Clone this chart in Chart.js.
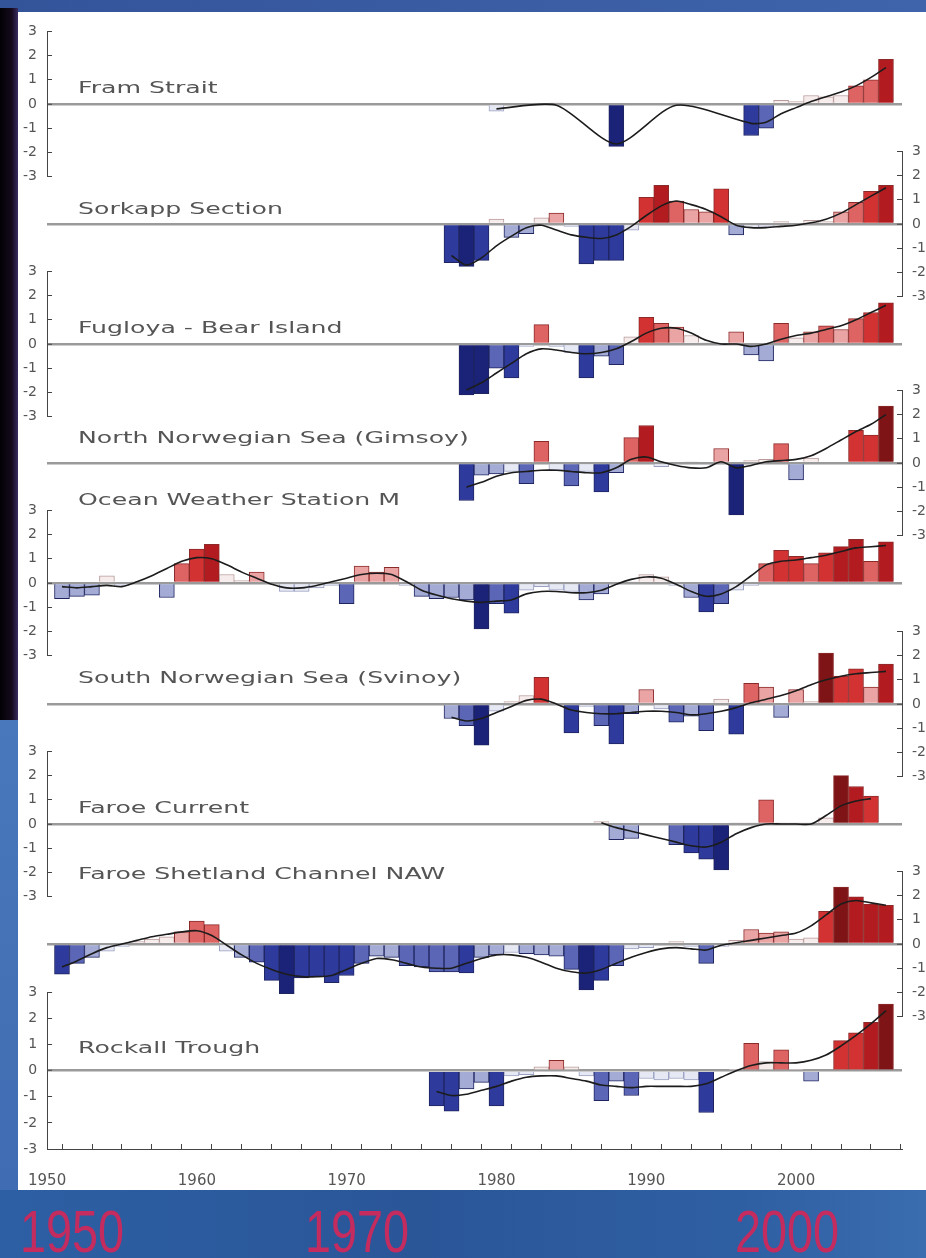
<!DOCTYPE html>
<html><head><meta charset="utf-8">
<script src="https://cdn.jsdelivr.net/npm/chart.js@4.4.1/dist/chart.umd.min.js"></script>
<style>
html,body{margin:0;padding:0;}
body{width:926px;height:1258px;position:relative;overflow:hidden;background:#3a63a8;font-family:"DejaVu Sans",sans-serif;}
#topbar{position:absolute;left:0;top:0;width:926px;height:12px;background:linear-gradient(90deg,#34549a,#3f64ab);}
#leftdark{position:absolute;left:0;top:8px;width:18px;height:712px;background:linear-gradient(90deg,#020104 0%,#140a1c 65%,#3b2c62 100%);}
#leftblue{position:absolute;left:0;top:720px;width:18px;height:470px;background:linear-gradient(180deg,#4a78bc,#3f6cb2);}
#paper{position:absolute;left:18px;top:12px;width:908px;height:1178px;background:#fff;}
#bottom{position:absolute;left:0;top:1190px;width:926px;height:68px;background:linear-gradient(90deg,#2d5fa4,#2a5698 45%,#2f5fa3 80%,#3a6cb0);}
.cv{position:absolute;left:0;}
.lbl{position:absolute;left:78px;font-size:15px;line-height:18px;color:#555;white-space:nowrap;transform:scaleX(1.68);transform-origin:0 50%;}
.big{position:absolute;top:1204px;font-family:"Liberation Sans",sans-serif;font-size:60px;line-height:56px;color:#c42b5e;transform:scaleX(0.78);transform-origin:0 0;white-space:nowrap;}
</style></head>
<body>
<div id="topbar"></div><div id="leftdark"></div><div id="leftblue"></div><div id="paper"></div><div id="bottom"></div>
<div id="charts"></div>
<div id="labels"></div>
<script>
// ---------- axis / tick data ----------
const XMIN = 1950, XMAX = 2007.07;
const xTickYears = [1950,1952,1954,1956,1958,1960,1962,1964,1966,1968,1970,1972,1974,1976,1978,1980,1982,1984,1986,1988,1990,1992,1994,1996,1998,2000,2002,2004,2006];
const xDecadeLabels = ['1950','1960','1970','1980','1990','2000'];
const yTicks = [-3,-2,-1,0,1,2,3];
const bigYearLabels = ['1950','1970','2000'];

const panelNames = ['Fram Strait','Sorkapp Section','Fugloya - Bear Island','North Norwegian Sea (Gimsoy)','Ocean Weather Station M','South Norwegian Sea (Svinoy)','Faroe Current','Faroe Shetland Channel NAW','Rockall Trough'];

// ---------- series (anomalies, one value per year from start year) ----------
const framStart = 1980;
const framBars = [-0.3,null,null,null,0.05,null,null,null,-1.75,null,null,null,0.05,null,null,null,null,-1.3,-1.0,0.15,0.1,0.35,0.3,0.35,0.75,1.0,1.85];
const framLine = [-0.2,null,null,null,-0.05,null,null,null,-1.65,null,null,null,-0.05,null,null,null,null,-0.8,-0.75,-0.4,-0.15,0.1,0.3,0.5,0.75,1.1,1.5];

const sorkappStart = 1977;
const sorkappBars = [-1.6,-1.75,-1.5,0.2,-0.55,-0.4,0.25,0.45,-0.1,-1.65,-1.5,-1.5,-0.25,1.1,1.6,0.95,0.6,0.5,1.45,-0.45,-0.15,-0.1,0.1,-0.05,0.15,0.1,0.5,0.9,1.35,1.6];
const sorkappLine = [-1.3,-1.7,-1.4,-0.9,-0.5,-0.15,-0.05,-0.25,-0.45,-0.55,-0.6,-0.45,-0.1,0.35,0.75,0.95,0.8,0.6,0.3,-0.05,-0.15,-0.15,-0.1,-0.05,0.05,0.2,0.45,0.8,1.15,1.5];

const fugloyaStart = 1978;
const fugloyaBars = [-2.1,-2.05,-1.0,-1.4,-0.1,0.8,-0.1,-0.35,-1.4,-0.5,-0.85,0.3,1.1,0.85,0.7,0.35,0.05,-0.05,0.5,-0.45,-0.7,0.85,0.25,0.5,0.75,0.6,1.05,1.3,1.7];
const fugloyaLine = [-1.9,-1.6,-1.2,-0.8,-0.4,-0.2,-0.25,-0.35,-0.4,-0.35,-0.2,0.1,0.45,0.65,0.65,0.45,0.15,0.0,0.0,-0.1,0.0,0.2,0.35,0.45,0.6,0.75,1.0,1.3,1.6];

const gimsoyStart = 1978;
const gimsoyBars = [-1.55,-0.5,-0.45,-0.35,-0.85,0.9,-0.3,-0.95,-0.35,-1.2,-0.4,1.05,1.55,-0.15,-0.05,0.05,-0.05,0.6,-2.15,0.1,0.15,0.8,-0.7,0.2,null,null,1.35,1.15,2.35];
const gimsoyLine = [-1.0,-0.8,-0.55,-0.4,-0.35,-0.3,-0.3,-0.35,-0.4,-0.4,-0.2,0.15,0.25,0.05,-0.1,-0.2,-0.2,0.05,-0.2,-0.1,0.05,0.1,0.15,0.3,0.6,0.95,1.3,1.6,2.0];

const owsStart = 1951;
const owsBars = [-0.65,-0.55,-0.5,0.3,-0.1,0.05,-0.05,-0.6,0.8,1.4,
  1.6,0.35,0.1,0.45,0.0,-0.35,-0.35,-0.2,-0.1,-0.85,
  0.7,0.45,0.65,-0.1,-0.55,-0.65,-0.6,-0.7,-1.9,-0.85,
  -1.25,-0.3,-0.15,-0.3,-0.35,-0.7,-0.45,-0.05,0.05,0.35,
  0.25,-0.1,-0.6,-1.2,-0.85,-0.3,-0.1,0.8,1.35,1.1,
  0.8,1.25,1.5,1.8,0.9,1.7];
const owsLine = [-0.15,-0.2,-0.15,-0.1,-0.15,0.05,0.3,0.6,0.9,1.05,
  1.0,0.75,0.45,0.2,-0.05,-0.2,-0.2,-0.1,0.05,0.2,
  0.35,0.4,0.35,0.05,-0.3,-0.5,-0.65,-0.75,-0.8,-0.75,
  -0.7,-0.45,-0.35,-0.35,-0.4,-0.4,-0.3,-0.05,0.15,0.25,
  0.2,-0.05,-0.35,-0.55,-0.45,-0.15,0.3,0.75,0.9,0.95,
  1.05,1.15,1.3,1.45,1.5,1.55];

const svinoyStart = 1977;
const svinoyBars = [-0.6,-0.9,-1.7,-0.3,0.1,0.35,1.1,-0.05,-1.2,-0.1,-0.9,-1.65,-0.4,0.6,-0.2,-0.75,-0.5,-1.1,0.2,-1.25,0.85,0.7,-0.55,0.6,0.1,2.1,1.15,1.45,0.7,1.65];
const svinoyLine = [-0.55,-0.7,-0.6,-0.35,-0.1,0.15,0.2,0.0,-0.25,-0.35,-0.4,-0.4,-0.35,-0.3,-0.3,-0.35,-0.45,-0.4,-0.3,-0.15,0.05,0.2,0.35,0.55,0.8,1.0,1.15,1.25,1.3,1.35];

const faroeStart = 1987;
const faroeBars = [0.1,-0.65,-0.6,null,null,-0.85,-1.2,-1.45,-1.9,0.05,0.05,1.0,0.05,0.05,0.05,0.25,2.0,1.55,1.15];
const faroeLine = [0.05,-0.15,-0.3,-0.45,-0.6,-0.75,-0.9,-0.95,-0.75,-0.4,-0.15,0.0,0.0,0.0,0.0,0.35,0.75,0.95,1.05];

const fscStart = 1951;
const fscBars = [-1.25,-0.8,-0.55,-0.3,-0.1,0.1,0.2,0.3,0.5,0.95,
  0.8,-0.3,-0.55,-0.75,-1.5,-2.05,-1.4,-1.35,-1.6,-1.3,
  -0.8,-0.5,-0.55,-0.9,-0.95,-1.15,-1.15,-1.2,-0.55,-0.45,
  -0.35,-0.4,-0.45,-0.5,-1.05,-1.9,-1.5,-0.9,-0.2,-0.15,
  -0.05,0.1,-0.1,-0.8,-0.1,0.15,0.6,0.45,0.5,0.2,
  0.25,1.35,2.35,1.95,1.65,1.6];
const fscLine = [-0.95,-0.7,-0.4,-0.15,0.0,0.15,0.3,0.4,0.5,0.55,
  0.35,-0.05,-0.45,-0.8,-1.05,-1.25,-1.35,-1.35,-1.3,-1.05,
  -0.8,-0.6,-0.65,-0.8,-0.95,-1.0,-1.0,-0.8,-0.6,-0.45,
  -0.45,-0.55,-0.75,-1.0,-1.15,-1.2,-1.05,-0.8,-0.55,-0.35,
  -0.2,-0.15,-0.2,-0.25,-0.05,0.05,0.15,0.25,0.35,0.45,
  0.75,1.2,1.65,1.8,1.7,1.6];

const rockallStart = 1976;
const rockallBars = [-1.35,-1.55,-0.7,-0.45,-1.35,-0.2,-0.15,0.15,0.4,0.15,-0.2,-1.15,-0.4,-0.95,-0.3,-0.35,-0.3,-0.35,-1.6,0.0,0.05,1.05,0.35,0.8,0.05,-0.4,0.0,1.15,1.45,1.85,2.55];
const rockallLine = [-0.8,-0.95,-0.9,-0.75,-0.6,-0.4,-0.25,-0.2,-0.2,-0.3,-0.4,-0.55,-0.6,-0.65,-0.6,-0.6,-0.6,-0.6,-0.5,-0.25,0.0,0.2,0.3,0.3,0.3,0.4,0.6,0.95,1.35,1.8,2.3];

// ---------- layout ----------
const panels = [
  {start:framStart, bars:framBars, line:framLine},
  {start:sorkappStart, bars:sorkappBars, line:sorkappLine},
  {start:fugloyaStart, bars:fugloyaBars, line:fugloyaLine},
  {start:gimsoyStart, bars:gimsoyBars, line:gimsoyLine},
  {start:owsStart, bars:owsBars, line:owsLine},
  {start:svinoyStart, bars:svinoyBars, line:svinoyLine},
  {start:faroeStart, bars:faroeBars, line:faroeLine},
  {start:fscStart, bars:fscBars, line:fscLine},
  {start:rockallStart, bars:rockallBars, line:rockallLine}
];
const zeroPx = [104,224,344,463,583,704,824,944,1065];
const sides = ['left','right','left','right','left','right','left','right','left'];
const labelY = [88,209,328,438,500,678,808,874,1048];
const HALF = 84, PADV = 12, XAXIS_H = 46, LEFT_W = 47, RIGHT_W = 24;

function barFill(v){
  if (v >= 2.0) return '#7e1416';
  if (v >= 1.5) return '#b21c20';
  if (v >= 1.1) return '#d23232';
  if (v >= 0.75) return '#de6464';
  if (v >= 0.4) return '#eaa4a4';
  if (v >= 0) return '#f7ecec';
  if (v > -0.4) return '#e6e8f4';
  if (v > -0.75) return '#a4acd6';
  if (v > -1.2) return '#5b67b6';
  if (v > -1.7) return '#2e3b9c';
  return '#1b2378';
}
function barEdge(v){
  if (v >= 0.4) return '#8c2a2a';
  if (v >= 0) return '#b89a9a';
  if (v > -0.4) return '#9aa0c0';
  return '#1f2560';
}

const chartsDiv = document.getElementById('charts');
const labelsDiv = document.getElementById('labels');

panels.forEach((p, i) => {
  const isBottom = (i === panels.length - 1);
  const side = sides[i];
  const top = zeroPx[i] - HALF - PADV;
  const h = PADV + 2*HALF + (isBottom ? XAXIS_H : PADV);
  const cv = document.createElement('canvas');
  cv.className = 'cv';
  cv.width = 926; cv.height = h;
  cv.style.top = top + 'px';
  cv.style.width = '926px'; cv.style.height = h + 'px';
  chartsDiv.appendChild(cv);

  const barPts = p.bars.map((v, k) => ({x: p.start + k, y: v}));
  const linePts = p.line.map((v, k) => ({x: p.start + k, y: v}));

  new Chart(cv.getContext('2d'), {
    type: 'bar',
    data: {
      datasets: [
        {type:'line', data: linePts, borderColor:'#1c1c1c', borderWidth:1.6, pointRadius:0, tension:0.25, spanGaps:true, order:0},
        {type:'bar', data: barPts,
         backgroundColor: c => barFill(c.raw && c.raw.y != null ? c.raw.y : 0),
         borderColor: c => barEdge(c.raw && c.raw.y != null ? c.raw.y : 0),
         borderWidth: 1, barPercentage: 1, categoryPercentage: 1, order: 1}
      ]
    },
    options: {
      animation: false, responsive: false, maintainAspectRatio: false,
      layout: {padding: {top: PADV, bottom: isBottom ? 0 : PADV, left: side === 'left' ? 0 : LEFT_W, right: side === 'left' ? RIGHT_W : 0}},
      plugins: {legend: {display: false}, tooltip: {enabled: false}, title: {display: false}},
      scales: {
        x: {
          type: 'linear', min: XMIN, max: XMAX, display: isBottom, offset: false,
          afterBuildTicks: s => { s.ticks = xTickYears.map(v => ({value: v})); },
          afterFit: s => { s.height = isBottom ? XAXIS_H : 0; },
          grid: {drawOnChartArea: false, drawTicks: true, tickLength: -5, tickColor: '#444', tickWidth: 1},
          border: {display: true, color: '#444', width: 1},
          ticks: {autoSkip: false, maxRotation: 0, minRotation: 0, padding: 28, color: '#555',
                  font: {family: 'DejaVu Sans', size: 15},
                  callback: v => { const s = String(v); return xDecadeLabels.includes(s) ? s : ''; }}
        },
        y: {
          min: -3, max: 3, position: side,
          afterBuildTicks: s => { s.ticks = yTicks.map(v => ({value: v})); },
          afterFit: s => { s.width = side === 'left' ? LEFT_W : RIGHT_W; },
          grid: {drawOnChartArea: true, drawTicks: true, tickLength: -5, tickColor: '#444', tickWidth: 1,
                 color: c => (c.tick && c.tick.value === 0) ? '#9a9a9a' : 'rgba(0,0,0,0)',
                 lineWidth: c => (c.tick && c.tick.value === 0) ? 2.5 : 1},
          border: {display: true, color: '#444', width: 1},
          ticks: {autoSkip: false, padding: 15, color: '#555', font: {family: 'DejaVu Sans', size: 14}}
        }
      }
    }
  });

  const d = document.createElement('div');
  d.className = 'lbl';
  d.textContent = panelNames[i];
  d.style.top = (labelY[i] - 9) + 'px';
  labelsDiv.appendChild(d);
});

const bigX = [20, 305, 735];
bigYearLabels.forEach((t, i) => {
  const d = document.createElement('div');
  d.className = 'big';
  d.textContent = t;
  d.style.left = bigX[i] + 'px';
  labelsDiv.appendChild(d);
});
</script>
</body></html>
